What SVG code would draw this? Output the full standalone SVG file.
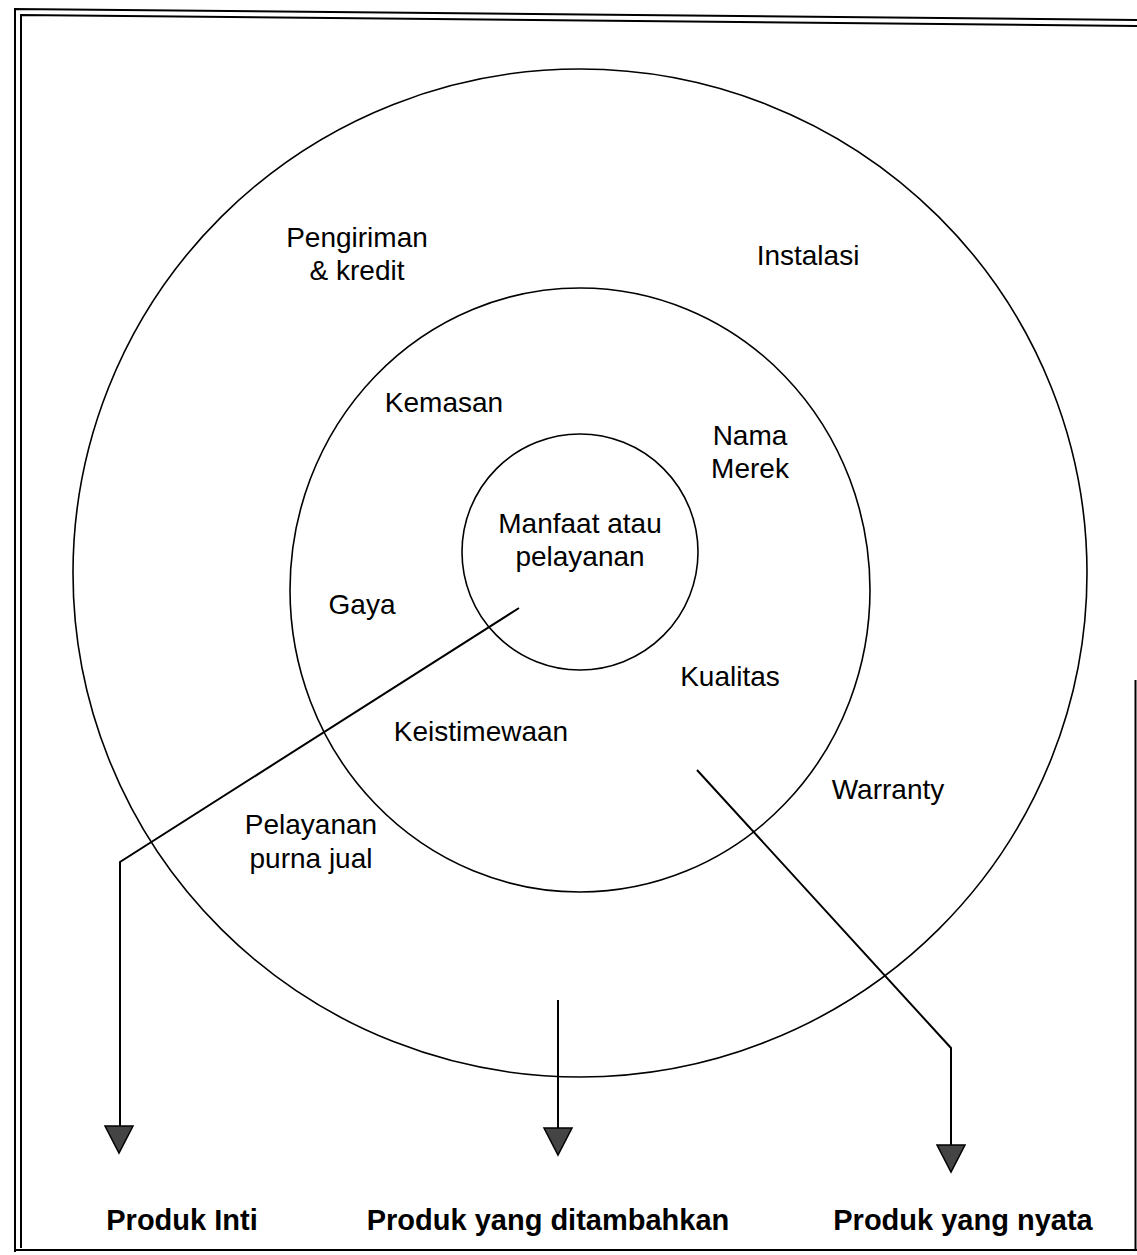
<svg xmlns="http://www.w3.org/2000/svg" width="1137" height="1255" viewBox="0 0 1137 1255">
  <style>
    .ring { fill: none; stroke: #000; stroke-width: 1.6; }
    .frame { fill: none; stroke: #000; stroke-width: 2; }
    .wire { fill: none; stroke: #000; stroke-width: 2; }
    .head { fill: #444; stroke: #000; stroke-width: 1.5; stroke-linejoin: miter; }
    .lbl { font-family: "Liberation Sans", Arial, sans-serif; font-size: 28px; fill: #000; text-anchor: middle; }
    .cap { font-family: "Liberation Sans", Arial, sans-serif; font-size: 29px; font-weight: bold; fill: #000; text-anchor: middle; }
  </style>
  <rect width="1137" height="1255" fill="#fff"/>

  <!-- double page frame -->
  <g id="frame">
    <polyline class="frame" points="15,1252 15,9 1137,20"/>
    <polyline class="frame" points="21,1248 21,15 1137,26"/>
    <line class="frame" x1="15" y1="1250" x2="1137" y2="1250"/>
    <line class="frame" x1="1135.5" y1="680" x2="1135.5" y2="1250"/>
  </g>

  <!-- concentric product levels -->
  <g id="augmented">
    <ellipse class="ring" cx="580" cy="573" rx="507" ry="504"/>
    <text class="lbl" x="357" y="247">Pengiriman</text>
    <text class="lbl" x="357" y="280">&amp; kredit</text>
    <text class="lbl" x="808" y="265">Instalasi</text>
    <text class="lbl" x="888" y="799">Warranty</text>
    <text class="lbl" x="311" y="834">Pelayanan</text>
    <text class="lbl" x="311" y="868">purna jual</text>
  </g>

  <g id="actual">
    <ellipse class="ring" cx="580" cy="590" rx="290" ry="302"/>
    <text class="lbl" x="444" y="412">Kemasan</text>
    <text class="lbl" x="750" y="445">Nama</text>
    <text class="lbl" x="750" y="478">Merek</text>
    <text class="lbl" x="362" y="614">Gaya</text>
    <text class="lbl" x="730" y="686">Kualitas</text>
    <text class="lbl" x="481" y="741">Keistimewaan</text>
  </g>

  <g id="core">
    <circle class="ring" cx="580" cy="552" r="118"/>
    <text class="lbl" x="580" y="533">Manfaat atau</text>
    <text class="lbl" x="580" y="566">pelayanan</text>
  </g>

  <!-- leader lines with arrowheads -->
  <g id="connectors">
    <polyline class="wire" points="519,608 120,862 120,1126"/>
    <polygon class="head" points="105,1126 133,1126 119,1153"/>
    <line class="wire" x1="558" y1="1000" x2="558" y2="1128"/>
    <polygon class="head" points="544,1128 572,1128 558,1155"/>
    <polyline class="wire" points="697,770 951,1048 951,1145"/>
    <polygon class="head" points="937,1145 965,1145 951,1172"/>
  </g>

  <!-- level captions -->
  <g id="captions">
    <text class="cap" x="182" y="1230">Produk Inti</text>
    <text class="cap" x="548" y="1230">Produk yang ditambahkan</text>
    <text class="cap" x="963" y="1230">Produk yang nyata</text>
  </g>
</svg>
